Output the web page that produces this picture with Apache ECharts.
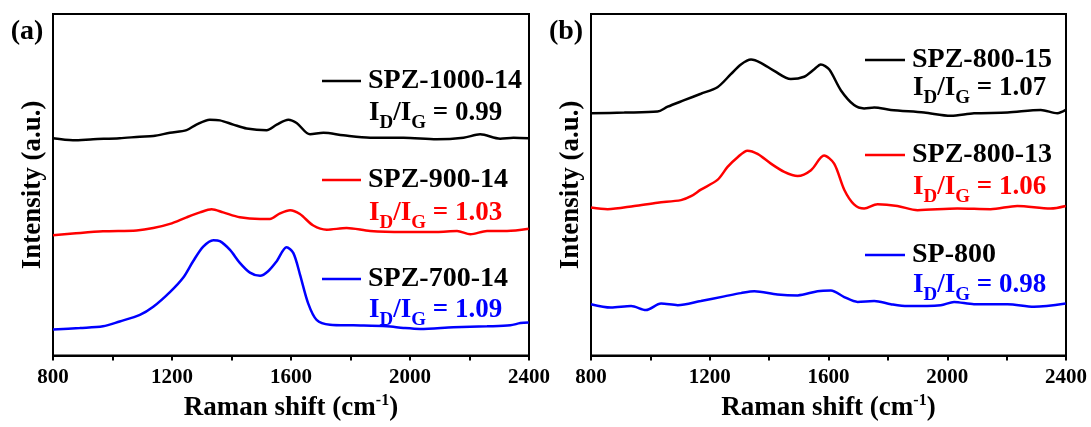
<!DOCTYPE html>
<html>
<head>
<meta charset="utf-8">
<script src="https://cdn.jsdelivr.net/npm/echarts@6/dist/echarts.min.js"></script>
<style>
  html, body { margin: 0; padding: 0; background: #fff; }
  #main { width: 1091px; height: 427px; }
</style>
</head>
<body>
<div id="main"></div>
<script>
// (a) SPZ-1000-14
const shiftA1000 = [800, 867, 935, 1024, 1092, 1137, 1193, 1249, 1282, 1327, 1361, 1406, 1451, 1518, 1552, 1591, 1619, 1664, 1709, 1776, 1866, 1978, 2090, 2180, 2236, 2303, 2348, 2399];
const intA1000 = [222.7, 220.7, 221.7, 222.7, 224.3, 225, 228.3, 231, 236.7, 241.7, 241, 236.7, 232.7, 231, 236.7, 241.7, 238.3, 226.7, 228.3, 225.7, 223.3, 223.3, 221.7, 223.3, 226.7, 222.3, 223.3, 222.7];
// (a) SPZ-900-14
const shiftA900 = [800, 867, 968, 1081, 1137, 1193, 1249, 1294, 1333, 1372, 1428, 1496, 1529, 1563, 1597, 1630, 1675, 1720, 1787, 1866, 1978, 2090, 2158, 2203, 2259, 2326, 2399];
const intA900 = [123.3, 125, 127.3, 128.3, 130.7, 135, 141.7, 146.7, 150, 146.7, 141.7, 140, 140, 145.7, 149, 145, 133.3, 129, 130.7, 127.7, 126.7, 126.7, 127.7, 124.3, 127.7, 127.7, 130];
// (a) SPZ-700-14
const shiftA700 = [800, 890, 968, 1024, 1092, 1137, 1193, 1238, 1271, 1305, 1339, 1361, 1395, 1428, 1462, 1496, 1524, 1552, 1585, 1608, 1630, 1658, 1686, 1731, 1810, 1922, 1978, 2034, 2146, 2259, 2337, 2371, 2399];
const intA700 = [26.7, 28.3, 30, 35, 41.7, 50, 65, 80, 96.7, 111.7, 118.3, 117.3, 108.3, 95, 85, 81.7, 86.7, 96.7, 111, 105, 83.3, 53.3, 36.7, 31.7, 31, 30, 28.3, 27.3, 29, 30, 31, 33.3, 34];

// (b) SPZ-800-15
const shiftB15 = [800, 912, 1024, 1058, 1114, 1170, 1226, 1271, 1305, 1339, 1372, 1417, 1473, 1518, 1552, 1574, 1602, 1642, 1686, 1720, 1754, 1810, 1922, 2012, 2090, 2203, 2315, 2371, 2399];
const intB15 = [248.3, 249, 250, 255, 261.7, 268.3, 275, 288.3, 298.3, 303.3, 300, 291.7, 283.3, 285.7, 293.3, 298.3, 293.3, 271.7, 256.7, 253.3, 254.3, 251.7, 249, 245.7, 248.3, 249, 251.7, 248.3, 251.7];
// (b) SPZ-800-13
const shiftB13 = [800, 856, 946, 1024, 1103, 1137, 1170, 1226, 1260, 1294, 1327, 1361, 1406, 1451, 1496, 1541, 1585, 1619, 1653, 1686, 1720, 1765, 1832, 1900, 2034, 2146, 2236, 2348, 2399];
const intB13 = [151.7, 150, 153.3, 156.7, 159.3, 163.3, 170, 180, 193.3, 203.3, 210, 206.7, 196.7, 188.3, 184, 190, 205, 196.7, 170, 155, 150.7, 155, 153.3, 149, 150.7, 150, 153.3, 150.7, 153.3];
// (b) SP-800
const shiftB800 = [800, 867, 935, 985, 1036, 1092, 1170, 1249, 1305, 1350, 1428, 1496, 1563, 1608, 1653, 1698, 1754, 1810, 1866, 1978, 2023, 2090, 2203, 2292, 2399];
const intB800 = [52.7, 49.3, 50.7, 46.7, 53.3, 51.7, 56, 60.7, 64, 66, 62.7, 61.7, 66, 66.7, 60, 55, 56, 52.7, 50.7, 51.7, 55, 52.7, 52.7, 50, 53.3];

const namesA = ['SPZ-1000-14', 'SPZ-900-14', 'SPZ-700-14'];
const ratiosA = ['0.99', '1.03', '1.09'];
const namesB = ['SPZ-800-15', 'SPZ-800-13', 'SP-800'];
const ratiosB = ['1.07', '1.06', '0.98'];
const tickLabels = ['800', '1200', '1600', '2000', '2400'];
const colors = ['#000000', '#ff0000', '#0000ff'];

const FONT = '"Liberation Serif", "Times New Roman", serif';

function zip(xs, ys) {
  return xs.map((x, i) => [x, ys[i]]);
}

var myChart = echarts.init(document.getElementById('main'));

function xAxisFor(idx) {
  return {
    gridIndex: idx,
    type: 'value',
    min: 800,
    max: 2400,
    interval: 200,
    name: '{t|Raman shift (cm}{s|-1}{t|)}',
    nameLocation: 'middle',
    nameGap: 36,
    nameTextStyle: {
      rich: {
        t: { fontFamily: FONT, fontWeight: 'bold', fontSize: 27, color: '#000' },
        s: { fontFamily: FONT, fontWeight: 'bold', fontSize: 16, color: '#000', padding: [0, 0, 16, 0] }
      }
    },
    axisLine: { show: true, onZero: false, lineStyle: { color: '#000', width: 2 } },
    axisTick: { show: true, inside: false, length: 5, lineStyle: { color: '#000', width: 2 } },
    axisLabel: {
      margin: 11,
      color: '#000',
      fontFamily: FONT,
      fontWeight: 'bold',
      fontSize: 21,
      showMinLabel: true,
      showMaxLabel: true,
      // only every other tick carries a label
      formatter: function (v) {
        return tickLabels.indexOf(String(v)) >= 0 ? String(v) : '';
      }
    },
    splitLine: { show: false }
  };
}

function yAxisFor(idx) {
  return {
    gridIndex: idx,
    type: 'value',
    min: 0,
    max: 350,
    name: 'Intensity (a.u.)',
    nameLocation: 'middle',
    nameGap: 6,
    nameTextStyle: { fontFamily: FONT, fontWeight: 'bold', fontSize: 27, color: '#000' },
    axisLine: { show: true, lineStyle: { color: '#000', width: 2 } },
    axisTick: { show: false },
    axisLabel: { show: false },
    splitLine: { show: false }
  };
}

function lineSeries(name, xi, data, color) {
  return {
    name: name,
    type: 'line',
    xAxisIndex: xi,
    yAxisIndex: xi,
    data: data,
    showSymbol: false,
    smooth: 0.3,
    lineStyle: { color: color, width: 2.5 },
    itemStyle: { color: color },
    animation: false
  };
}

// legend blocks drawn as graphic (line + label + ratio)
function legendBlock(x1, x2, tx, ys, names, ratios) {
  const els = [];
  for (let i = 0; i < 3; i++) {
    els.push({
      type: 'line',
      shape: { x1: x1, y1: ys[i][0], x2: x2, y2: ys[i][0] },
      style: { stroke: colors[i], lineWidth: 2.5 }
    });
    els.push({
      type: 'text',
      x: tx,
      y: ys[i][0],
      style: {
        text: names[i],
        fill: '#000',
        font: 'bold 28px ' + FONT,
        verticalAlign: 'middle'
      }
    });
    const c = colors[i];
    els.push({
      type: 'text',
      x: tx + 1,
      y: ys[i][1],
      style: {
        text: '{m|I}{s|D}{m|/I}{s|G}{m| = ' + ratios[i] + '}',
        verticalAlign: 'middle',
        rich: {
          m: { fontFamily: FONT, fontWeight: 'bold', fontSize: 27, fill: c, color: c },
          s: { fontFamily: FONT, fontWeight: 'bold', fontSize: 19, fill: c, color: c, padding: [20, 0, 0, 0] }
        }
      }
    });
  }
  return els;
}

var option = {
  backgroundColor: '#fff',
  animation: false,
  grid: [
    { left: 53, top: 14, width: 476, height: 351, show: true, borderColor: '#000', borderWidth: 2 },
    { left: 591, top: 14, width: 475, height: 351, show: true, borderColor: '#000', borderWidth: 2 }
  ],
  xAxis: [xAxisFor(0), xAxisFor(1)],
  yAxis: [yAxisFor(0), yAxisFor(1)],
  series: [
    lineSeries(namesA[0], 0, zip(shiftA1000, intA1000), colors[0]),
    lineSeries(namesA[1], 0, zip(shiftA900, intA900), colors[1]),
    lineSeries(namesA[2], 0, zip(shiftA700, intA700), colors[2]),
    lineSeries(namesB[0], 1, zip(shiftB15, intB15), colors[0]),
    lineSeries(namesB[1], 1, zip(shiftB13, intB13), colors[1]),
    lineSeries(namesB[2], 1, zip(shiftB800, intB800), colors[2])
  ],
  graphic: [
    { type: 'text', x: 27, y: 32, style: { text: '(a)', fill: '#000', font: 'bold 28px ' + FONT, align: 'center', verticalAlign: 'middle' } },
    { type: 'text', x: 566, y: 32, style: { text: '(b)', fill: '#000', font: 'bold 28px ' + FONT, align: 'center', verticalAlign: 'middle' } }
  ]
    .concat(legendBlock(322, 361, 368, [[81, 113], [180, 213], [279, 310]], namesA, ratiosA))
    .concat(legendBlock(865, 905, 912, [[60, 88], [155, 187], [255, 285]], namesB, ratiosB))
};

myChart.setOption(option);
</script>
</body>
</html>
